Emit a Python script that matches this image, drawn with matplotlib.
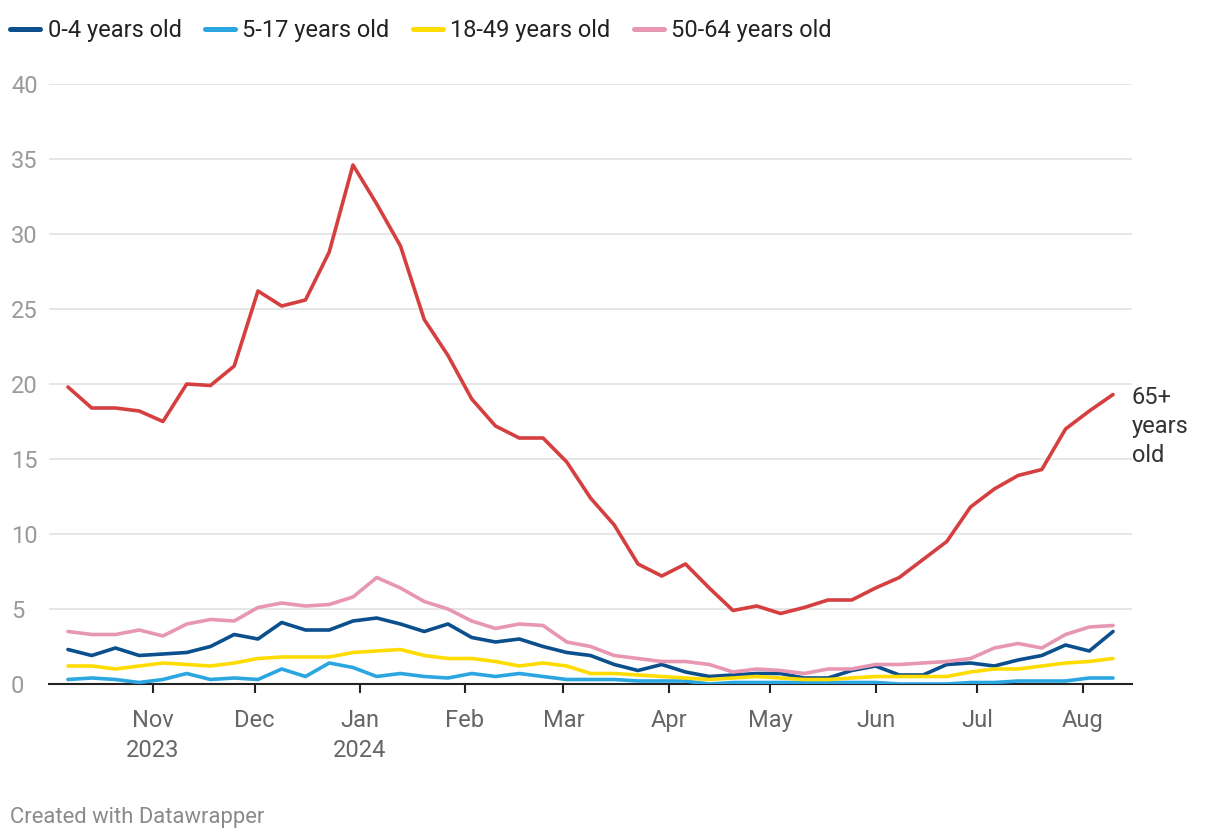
import numpy as np
import pandas as pd
import matplotlib
matplotlib.use("Agg")
import matplotlib.pyplot as plt

plt.rcParams['font.family'] = ['Roboto', 'DejaVu Sans']

# weekly rates, week ending Saturday
weeks = pd.date_range("2023-10-07", periods=45, freq="7D")

age_0_4 = [2.3, 1.9, 2.4, 1.9, 2.0, 2.1, 2.5, 3.3, 3.0, 4.1, 3.6, 3.6, 4.2, 4.4, 4.0,
           3.5, 4.0, 3.1, 2.8, 3.0, 2.5, 2.1, 1.9, 1.3, 0.9, 1.3, 0.8, 0.5, 0.6, 0.7,
           0.7, 0.4, 0.4, 0.9, 1.2, 0.6, 0.6, 1.3, 1.4, 1.2, 1.6, 1.9, 2.6, 2.2, 3.5]
age_5_17 = [0.3, 0.4, 0.3, 0.1, 0.3, 0.7, 0.3, 0.4, 0.3, 1.0, 0.5, 1.4, 1.1, 0.5, 0.7,
            0.5, 0.4, 0.7, 0.5, 0.7, 0.5, 0.3, 0.3, 0.3, 0.2, 0.2, 0.2, 0.0, 0.1, 0.1,
            0.1, 0.1, 0.1, 0.1, 0.1, 0.0, 0.0, 0.0, 0.1, 0.1, 0.2, 0.2, 0.2, 0.4, 0.4]
age_18_49 = [1.2, 1.2, 1.0, 1.2, 1.4, 1.3, 1.2, 1.4, 1.7, 1.8, 1.8, 1.8, 2.1, 2.2, 2.3,
             1.9, 1.7, 1.7, 1.5, 1.2, 1.4, 1.2, 0.7, 0.7, 0.6, 0.5, 0.4, 0.3, 0.4, 0.5,
             0.4, 0.3, 0.3, 0.4, 0.5, 0.5, 0.5, 0.5, 0.8, 1.0, 1.0, 1.2, 1.4, 1.5, 1.7]
age_50_64 = [3.5, 3.3, 3.3, 3.6, 3.2, 4.0, 4.3, 4.2, 5.1, 5.4, 5.2, 5.3, 5.8, 7.1, 6.4,
             5.5, 5.0, 4.2, 3.7, 4.0, 3.9, 2.8, 2.5, 1.9, 1.7, 1.5, 1.5, 1.3, 0.8, 1.0,
             0.9, 0.7, 1.0, 1.0, 1.3, 1.3, 1.4, 1.5, 1.7, 2.4, 2.7, 2.4, 3.3, 3.8, 3.9]
age_65 = [19.8, 18.4, 18.4, 18.2, 17.5, 20.0, 19.9, 21.2, 26.2, 25.2, 25.6, 28.8, 34.6,
          32.0, 29.2, 24.3, 21.9, 19.0, 17.2, 16.4, 16.4, 14.8, 12.4, 10.6, 8.0, 7.2,
          8.0, 6.4, 4.9, 5.2, 4.7, 5.1, 5.6, 5.6, 6.4, 7.1, 8.3, 9.5, 11.8, 13.0, 13.9,
          14.3, 17.0, 18.2, 19.3]

month_ticks = pd.date_range("2023-11-01", "2024-08-01", freq="MS")
month_labels = ["Nov\n2023", "Dec", "Jan\n2024", "Feb", "Mar", "Apr", "May", "Jun", "Jul", "Aug"]

fig = plt.figure(figsize=(12.2, 8.4), dpi=100)
ax = fig.add_axes([49 / 1220, 1 - 684 / 840, (1132 - 49) / 1220, 600 / 840])

series = [
    (age_0_4, "0-4 years old", "#0b4f8d"),
    (age_5_17, "5-17 years old", "#2ba6e1"),
    (age_18_49, "18-49 years old", "#ffdc00"),
    (age_50_64, "50-64 years old", "#e897b2"),
]
lines = []
for vals, name, col in series:
    ln, = ax.plot(weeks, vals, color=col, lw=2.6, label=name, solid_capstyle="round",
                  solid_joinstyle="round", zorder=3)
    lines.append(ln)
ax.plot(weeks, age_65, color="#d53f3f", lw=2.6, solid_capstyle="round",
        solid_joinstyle="round", zorder=4)
ax.text(weeks[-1] + pd.Timedelta(days=5.5), age_65[-1] + 0.55, "65+\nyears\nold",
        fontsize=17, color="#333333", va="top", ha="left", linespacing=1.33)

ax.set_ylim(0, 40)
ax.set_xlim(pd.Timestamp("2023-10-01 10:00"), pd.Timestamp("2024-08-15 14:00"))
ax.set_yticks(range(0, 41, 5))
ax.yaxis.grid(True, color="#e2e2e2", lw=1.2)
ax.set_axisbelow(True)
ax.tick_params(axis="y", length=0, labelsize=17, labelcolor="#9a9a9a", pad=27.4)
for lab in ax.get_yticklabels():
    lab.set_horizontalalignment("left")

ax.set_xticks(month_ticks)
ax.set_xticklabels(month_labels, linespacing=1.38)
ax.tick_params(axis="x", length=6.5, width=1.5, color="#222222", labelsize=17,
               labelcolor="#666666", pad=11.5)
for s in ["top", "right", "left"]:
    ax.spines[s].set_visible(False)
ax.spines["bottom"].set_color("#222222")
ax.spines["bottom"].set_linewidth(1.5)

leg = fig.legend(handles=lines, loc="center left", bbox_to_anchor=(10 / 1220, 1 - 31 / 840),
                 ncol=4, frameon=False, fontsize=17, handlelength=1.27, handletextpad=0.32,
                 columnspacing=0.98, borderpad=0, borderaxespad=0, labelcolor="#222222")
for h in leg.legend_handles:
    h.set_linewidth(3.6)

fig.text(10 / 1220, 1 - 817 / 840, "Created with Datawrapper", fontsize=15.8,
         color="#8a8a8a", va="center", ha="left")

fig.savefig("out.png", dpi=100)
